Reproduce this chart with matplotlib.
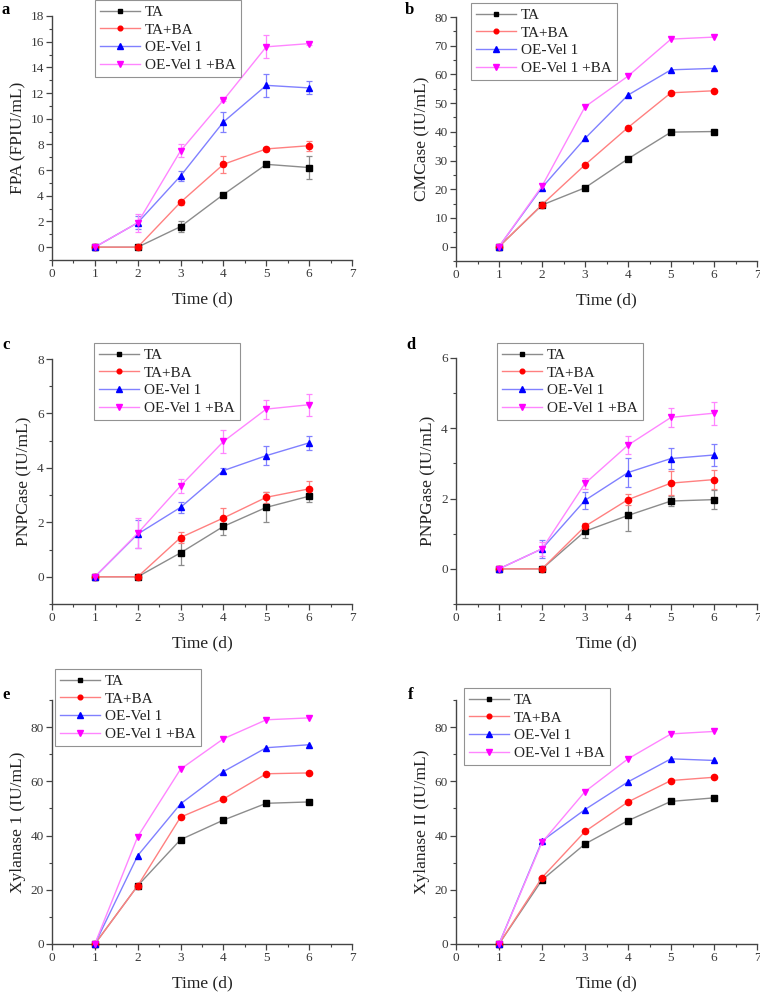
import matplotlib
matplotlib.use('Agg')
import matplotlib.pyplot as plt
from matplotlib.ticker import MultipleLocator
import numpy as np

plt.rcParams['font.family'] = ['Liberation Serif', 'DejaVu Serif']

days = [1, 2, 3, 4, 5, 6]
names = ['TA', 'TA+BA', 'OE-Vel 1', 'OE-Vel 1 +BA']

# a - FPA
fpa_ta = [0, 0, 1.6, 4.1, 6.45, 6.2]
fpa_ta_ba = [0, 0, 3.5, 6.45, 7.65, 7.9]
fpa_oe = [0, 1.9, 5.55, 9.75, 12.6, 12.4]
fpa_oe_ba = [0, 1.9, 7.5, 11.45, 15.6, 15.85]
fpa_ta_err = [0, 0, 0.4, 0.15, 0.1, 0.9]
fpa_ta_ba_err = [0, 0, 0.2, 0.65, 0.15, 0.4]
fpa_oe_err = [0, 0.5, 0.4, 0.8, 0.9, 0.5]
fpa_oe_ba_err = [0, 0.7, 0.5, 0.1, 0.9, 0.1]

# b - CMCase
cmc_ta = [0, 14.5, 20.5, 30.6, 39.9, 40.1]
cmc_ta_ba = [0, 14.6, 28.5, 41.5, 53.6, 54.3]
cmc_oe = [0, 20.6, 37.7, 52.8, 61.6, 62.1]
cmc_oe_ba = [0, 21.1, 48.7, 59.4, 72.3, 73.0]

# c - PNPCase
pnpc_ta = [0, 0, 0.88, 1.85, 2.55, 2.96]
pnpc_ta_ba = [0, 0, 1.44, 2.16, 2.92, 3.23]
pnpc_oe = [0, 1.57, 2.55, 3.9, 4.45, 4.92]
pnpc_oe_ba = [0, 1.6, 3.34, 4.97, 6.16, 6.32]
pnpc_ta_err = [0, 0, 0.45, 0.3, 0.55, 0.2]
pnpc_ta_ba_err = [0, 0, 0.2, 0.35, 0.2, 0.3]
pnpc_oe_err = [0, 0.5, 0.2, 0.1, 0.35, 0.25]
pnpc_oe_ba_err = [0, 0.55, 0.25, 0.43, 0.35, 0.4]

# d - PNPGase
pnpg_ta = [0, 0, 1.07, 1.52, 1.93, 1.97]
pnpg_ta_ba = [0, 0, 1.21, 1.97, 2.44, 2.54]
pnpg_oe = [0, 0.57, 1.95, 2.74, 3.14, 3.24]
pnpg_oe_ba = [0, 0.57, 2.43, 3.52, 4.31, 4.43]
pnpg_ta_err = [0, 0, 0.2, 0.45, 0.15, 0.28]
pnpg_ta_ba_err = [0, 0, 0.1, 0.15, 0.35, 0.28]
pnpg_oe_err = [0, 0.25, 0.25, 0.42, 0.3, 0.32]
pnpg_oe_ba_err = [0, 0.2, 0.15, 0.25, 0.27, 0.33]

# e - Xylanase 1
xyl1_ta = [0, 21.5, 38.5, 45.7, 51.9, 52.4]
xyl1_ta_ba = [0, 21.5, 46.8, 53.5, 62.8, 63.1]
xyl1_oe = [0, 32.6, 51.7, 63.6, 72.4, 73.5]
xyl1_oe_ba = [0, 39.6, 64.5, 75.7, 82.7, 83.4]

# f - Xylanase II
xyl2_ta = [0, 23.6, 36.9, 45.5, 52.6, 53.9]
xyl2_ta_ba = [0, 24.5, 41.5, 52.4, 60.3, 61.5]
xyl2_oe = [0, 38.0, 49.6, 59.8, 68.3, 67.7]
xyl2_oe_ba = [0, 37.5, 56.2, 68.3, 77.5, 78.4]

marker_colors = ['black', '#ff0000', '#0000ff', '#ff00ff']
line_colors = ['#8c8c8c', '#ff8080', '#8080ff', '#ff85ff']
markers = ['s', 'o', '^', 'v']
msizes = [4, 4.5, 5, 5]

W, H = 760, 992
fig = plt.figure(figsize=(W / 100, H / 100), dpi=100)


def px_axes(left, top, right, bottom):
    return fig.add_axes([left / W, 1 - bottom / H, (right - left) / W, (bottom - top) / H])


def draw_panel(ax, series, errors, ylabel, ylim, major, minor, letter, letter_xy, legend_xy):
    for i in range(4):
        if errors is not None:
            ax.errorbar(days, series[i], yerr=errors[i], fmt='none', ecolor=line_colors[i],
                        elinewidth=0.9, capsize=2.5, capthick=0.9, zorder=2)
        ax.plot(days, series[i], color=line_colors[i], lw=1.0, marker=markers[i],
                ms=msizes[i], mfc=marker_colors[i], mec=marker_colors[i],
                label=names[i], clip_on=False, zorder=3)
    ax.set_xlim(0, 7)
    ax.set_ylim(*ylim)
    ax.xaxis.set_major_locator(MultipleLocator(1))
    ax.xaxis.set_minor_locator(MultipleLocator(0.5))
    ax.yaxis.set_major_locator(MultipleLocator(major))
    ax.yaxis.set_minor_locator(MultipleLocator(minor))
    for s in ['top', 'right']:
        ax.spines[s].set_visible(False)
    for s in ['left', 'bottom']:
        ax.spines[s].set_color('#444444')
        ax.spines[s].set_linewidth(1.0)
    ax.tick_params(which='major', length=4, width=0.9, color='#444444',
                   labelsize=9.5, labelcolor='#3a3a3a', pad=2)
    ax.tick_params(which='minor', length=2, width=0.8, color='#444444')
    ax.set_xlabel('Time (d)', fontsize=12.5, color='#222222', labelpad=8)
    ax.set_ylabel(ylabel, fontsize=12.5, color='#222222', labelpad=3)
    fig.text(letter_xy[0] / W, 1 - letter_xy[1] / H, letter, fontsize=12,
             fontweight='bold', va='top', ha='left')
    leg = ax.legend(loc='upper left', bbox_to_anchor=(legend_xy[0] / W, 1 - legend_xy[1] / H),
                    bbox_transform=fig.transFigure, fontsize=11, frameon=True, fancybox=False,
                    handlelength=2.6, handletextpad=0.3, labelspacing=0.26, borderpad=0.35,
                    borderaxespad=0, markerscale=0.75)
    leg.get_frame().set_edgecolor('#777777')
    leg.get_frame().set_linewidth(0.8)
    for t in leg.get_texts():
        t.set_color('#222222')


ax_a = px_axes(52, 16, 352, 260)
draw_panel(ax_a, [fpa_ta, fpa_ta_ba, fpa_oe, fpa_oe_ba],
           [fpa_ta_err, fpa_ta_ba_err, fpa_oe_err, fpa_oe_ba_err],
           'FPA (FPIU/mL)', (-1, 18), 2, 1, 'a', (2, 2), (95, 0))

ax_b = px_axes(456, 17, 757, 261)
draw_panel(ax_b, [cmc_ta, cmc_ta_ba, cmc_oe, cmc_oe_ba], None,
           'CMCase (IU/mL)', (-5, 80), 10, 5, 'b', (405, 2), (471, 3))

ax_c = px_axes(52, 359, 352, 604)
draw_panel(ax_c, [pnpc_ta, pnpc_ta_ba, pnpc_oe, pnpc_oe_ba],
           [pnpc_ta_err, pnpc_ta_ba_err, pnpc_oe_err, pnpc_oe_ba_err],
           'PNPCase (IU/mL)', (-1, 8), 2, 1, 'c', (2, 337), (94, 343))

ax_d = px_axes(456, 358, 757, 604)
draw_panel(ax_d, [pnpg_ta, pnpg_ta_ba, pnpg_oe, pnpg_oe_ba],
           [pnpg_ta_err, pnpg_ta_ba_err, pnpg_oe_err, pnpg_oe_ba_err],
           'PNPGase (IU/mL)', (-1, 6), 2, 1, 'd', (406, 337), (497, 343))

ax_e = px_axes(52, 700, 352, 944)
draw_panel(ax_e, [xyl1_ta, xyl1_ta_ba, xyl1_oe, xyl1_oe_ba], None,
           'Xylanase 1 (IU/mL)', (0, 90), 20, 10, 'e', (2, 687), (55, 669))

ax_f = px_axes(456, 700, 757, 944)
draw_panel(ax_f, [xyl2_ta, xyl2_ta_ba, xyl2_oe, xyl2_oe_ba], None,
           'Xylanase II (IU/mL)', (0, 90), 20, 10, 'f', (408, 687), (464, 688))

fig.savefig('out.png', dpi=100)
